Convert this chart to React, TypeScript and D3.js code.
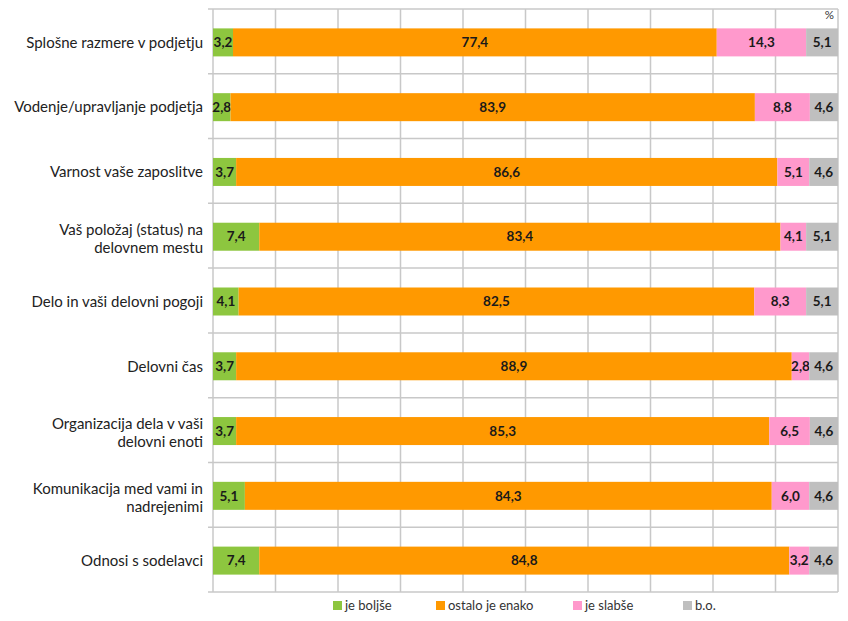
import React from "react";
import * as d3 from "d3";

const categories: string[][] = [
  ["Splošne razmere v podjetju"],
  ["Vodenje/upravljanje podjetja"],
  ["Varnost vaše zaposlitve"],
  ["Vaš položaj (status) na", "delovnem mestu"],
  ["Delo in vaši delovni pogoji"],
  ["Delovni čas"],
  ["Organizacija dela v vaši", "delovni enoti"],
  ["Komunikacija med vami in", "nadrejenimi"],
  ["Odnosi s sodelavci"],
];
const seriesNames = ["je boljše", "ostalo je enako", "je slabše", "b.o."];
const jeBoljse = [3.2, 2.8, 3.7, 7.4, 4.1, 3.7, 3.7, 5.1, 7.4];
const ostaloJeEnako = [77.4, 83.9, 86.6, 83.4, 82.5, 88.9, 85.3, 84.3, 84.8];
const jeSlabse = [14.3, 8.8, 5.1, 4.1, 8.3, 2.8, 6.5, 6.0, 3.2];
const bo = [5.1, 4.6, 4.6, 5.1, 5.1, 4.6, 4.6, 4.6, 4.6];
const xTicks = [0, 10, 20, 30, 40, 50, 60, 70, 80, 90, 100];
const colors = ["#8dc63f", "#ff9900", "#ff99cc", "#bfbfbf"];

const W = 848;
const H = 621;
const left = 213;
const right = 838;
const top = 9;
const bottom = 592;

export default function App() {
  const x = d3.scaleLinear().domain([0, 100]).range([left, right]);
  const y = d3
    .scaleBand<number>()
    .domain(categories.map((_, i) => i))
    .range([top, bottom])
    .paddingInner(0)
    .paddingOuter(0);
  const bw = y.bandwidth();
  const barH = 28;
  const rows = categories.map((_, i) => ({
    i,
    v: [jeBoljse[i], ostaloJeEnako[i], jeSlabse[i], bo[i]],
  }));
  const stack = d3
    .stack<{ i: number; v: number[] }, number>()
    .keys([0, 1, 2, 3])
    .value((d, k) => d.v[k]);
  const stacked = stack(rows);
  const fmt = (v: number) => v.toFixed(1).replace(".", ",");
  const hLines = categories.map((_, i) => y(i)!).concat([bottom]);
  const legendX = [333, 436, 573, 683];

  return (
    <svg
      width={W}
      height={H}
      style={{ position: "absolute", left: 0, top: 0, background: "#fff" }}
      fontFamily="Lato, 'Open Sans', sans-serif"
    >
      {/* grid */}
      {xTicks.map((t) => (
        <line key={"v" + t} x1={x(t)} x2={x(t)} y1={top} y2={bottom} stroke="#c8c8c8" strokeWidth={1.5} />
      ))}
      {hLines.map((yy, k) => (
        <line key={"h" + k} x1={left - 5} x2={right} y1={yy} y2={yy} stroke="#c8c8c8" strokeWidth={1.5} />
      ))}
      {/* bars */}
      {stacked.map((s, si) =>
        s.map((d, i) => {
          const x0 = x(d[0]);
          const x1 = Math.min(x(d[1]), right);
          const cy = y(i)! + bw / 2 + 1;
          return (
            <g key={si + "-" + i}>
              <rect x={x0} y={cy - barH / 2} width={x1 - x0} height={barH} fill={colors[si]} />
              <text
                x={(x0 + x1) / 2}
                y={cy}
                dy="0.35em"
                textAnchor="middle"
                fontSize={13.5}
                fontWeight="bold"
                fill="#1a1a1a"
              >
                {fmt(rows[i].v[si])}
              </text>
            </g>
          );
        })
      )}
      {/* category labels */}
      {categories.map((lines, i) => {
        const c = y(i)! + bw / 2;
        return (
          <text key={"c" + i} x={203} textAnchor="end" fontSize={15} fill="#222">
            {lines.map((ln, k) => (
              <tspan
                key={k}
                x={203}
                y={lines.length === 1 ? c + 1 : c - 6 + k * 18}
                dy="0.35em"
              >
                {ln}
              </tspan>
            ))}
          </text>
        );
      })}
      <text x={834} y={19} textAnchor="end" fontSize={11.5} fill="#333">%</text>
      {/* legend */}
      {seriesNames.map((n, k) => (
        <g key={"l" + k}>
          <rect x={legendX[k]} y={601} width={9} height={9} fill={colors[k]} />
          <text x={legendX[k] + 12} y={605.5} dy="0.35em" fontSize={13} fill="#333">
            {n}
          </text>
        </g>
      ))}
    </svg>
  );
}
